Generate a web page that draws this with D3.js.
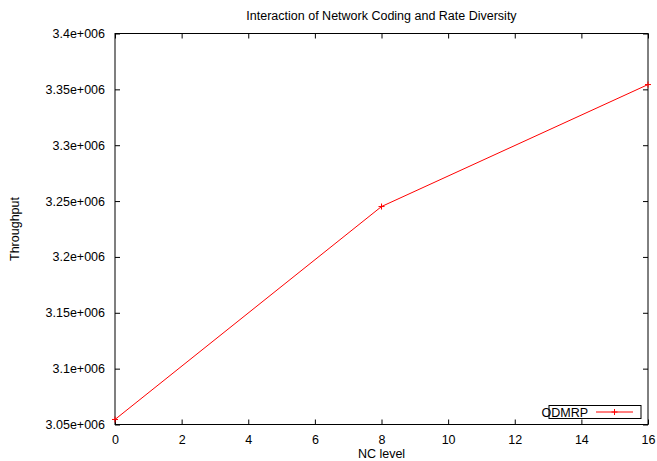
<!DOCTYPE html>
<html><head><meta charset="utf-8">
<script src="https://cdn.jsdelivr.net/npm/d3@7"></script>
<style>body{margin:0;background:#fff}svg{display:block;font-family:"Liberation Sans",Arial,Helvetica,sans-serif}</style>
</head><body><svg id="c" width="657" height="461"></svg>
<script>
const xValues = [0, 8, 16];
const throughput = [3054500, 3245100, 3354300];
const xTicks = [0, 2, 4, 6, 8, 10, 12, 14, 16];
const yTicks = [3050000, 3100000, 3150000, 3200000, 3250000, 3300000, 3350000, 3400000];
const seriesName = "ODMRP";
const titleText = "Interaction of Network Coding and Rate Diversity";
const xLabel = "NC level";
const yLabel = "Throughput";

const svg = d3.select("#c");
const L = 115, R = 648, T = 33.5, B = 424.5;
const x = d3.scaleLinear().domain([0, 16]).range([L, R]);
const y = d3.scaleLinear().domain([3050000, 3400000]).range([B, T]);
const fmt = v => (v / 1e6).toString() + "e+006";
const tl = 5;
const fs = 12.5;

svg.append("rect").attr("x", L).attr("y", T).attr("width", R - L).attr("height", B - T)
  .attr("fill", "none").attr("stroke", "#000").attr("stroke-width", 1);

const ax = svg.append("g").attr("transform", `translate(0,${B})`)
  .call(d3.axisBottom(x).tickValues(xTicks).tickSize(-tl).tickPadding(11).tickFormat(d3.format("d")));
const axT = svg.append("g").attr("transform", `translate(0,${T})`)
  .call(d3.axisTop(x).tickValues(xTicks).tickSize(-tl).tickFormat(""));
const ay = svg.append("g").attr("transform", `translate(${L},0)`)
  .call(d3.axisLeft(y).tickValues(yTicks).tickSize(-tl).tickPadding(10).tickFormat(fmt));
const ayR = svg.append("g").attr("transform", `translate(${R},0)`)
  .call(d3.axisRight(y).tickValues(yTicks).tickSize(-tl).tickFormat(""));
[ax, axT, ay, ayR].forEach(g => {
  g.select(".domain").remove();
  g.selectAll("line").attr("stroke", "#000");
  g.selectAll("text").attr("fill", "#000").attr("font-size", fs)
    .attr("font-family", "'Liberation Sans',Arial,sans-serif");
});
ax.selectAll("text").attr("dy", "0.71em");

const line = d3.line().x((d, i) => x(xValues[i])).y(d => y(d));
svg.append("path").datum(throughput).attr("d", line)
  .attr("fill", "none").attr("stroke", "#ff0000").attr("stroke-width", 1);
const cs = 3;
svg.selectAll("path.pt").data(throughput).enter().append("path").attr("class", "pt")
  .attr("d", (d, i) => { const px = x(xValues[i]), py = y(d);
    return `M${px - cs},${py}H${px + cs}M${px},${py - cs}V${py + cs}`; })
  .attr("stroke", "#ff0000").attr("stroke-width", 1);

svg.append("rect").attr("x", 549).attr("y", 405.5).attr("width", 92).attr("height", 13)
  .attr("fill", "none").attr("stroke", "#000").attr("stroke-width", 1);
svg.append("text").attr("x", 588).attr("y", 416.5).attr("text-anchor", "end")
  .attr("font-size", fs).text(seriesName);
svg.append("line").attr("x1", 596).attr("x2", 633).attr("y1", 412).attr("y2", 412)
  .attr("stroke", "#ff0000");
svg.append("path").attr("d", `M${614.5 - cs},412H${614.5 + cs}M614.5,${412 - cs}V${412 + cs}`)
  .attr("stroke", "#ff0000");

svg.append("text").attr("x", (L + R) / 2).attr("y", 20).attr("text-anchor", "middle")
  .attr("font-size", fs).text(titleText);
svg.append("text").attr("x", (L + R) / 2).attr("y", 458).attr("text-anchor", "middle")
  .attr("font-size", fs).text(xLabel);
svg.append("text").attr("transform", `translate(19,${(T + B) / 2}) rotate(-90)`)
  .attr("text-anchor", "middle").attr("font-size", fs).text(yLabel);
</script></body></html>
